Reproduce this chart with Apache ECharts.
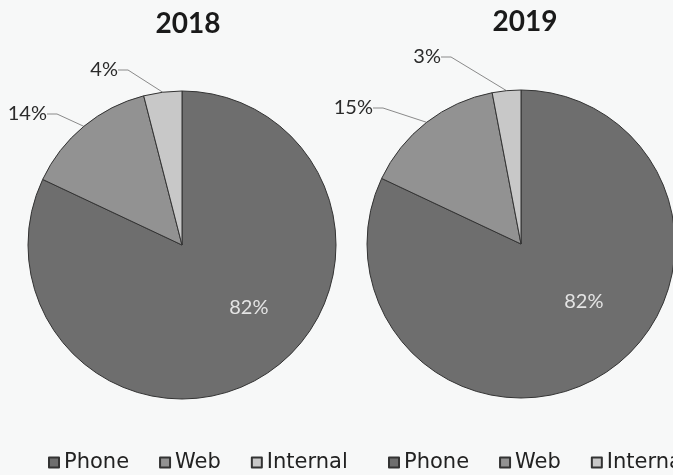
<!DOCTYPE html>
<html>
<head>
<meta charset="utf-8">
<script src="https://cdn.jsdelivr.net/npm/echarts@6/dist/echarts.min.js"></script>
<style>
  html, body { margin: 0; padding: 0; background: #f7f8f8; }
  #chart { width: 673px; height: 475px; }
</style>
</head>
<body>
<div id="chart"></div>
<script>
// Channel split per year, in percent
const categories = ['Phone', 'Web', 'Internal'];
const years = ['2018', '2019'];
const share2018 = [82, 14, 4];
const share2019 = [82, 15, 3];

const sliceColors = ['#6e6e6e', '#929292', '#c8c8c8'];
const labelFont = 'Lato, "DejaVu Sans", sans-serif';
const legendFont = '"DejaVu Sans", Lato, sans-serif';

// Where the small outside labels sit (right edge, vertical middle), per pie
const outsideLabelSpots = [
  { 1: [47, 114], 2: [118, 70] },
  { 1: [373, 108], 2: [441, 57] }
];
// Shift of the big inside label from its default spot, per pie
const insideLabelShift = [[24, -5], [20, -10]];

function buildData(values) {
  return categories.map((name, i) => {
    const item = { name: name, value: values[i] };
    if (i === 0) {
      item.label = { position: 'inside', color: '#e4e4e4', fontSize: 20 };
    }
    return item;
  });
}

function pieSeries(values, center, pieIndex) {
  return {
    type: 'pie',
    center: center,
    radius: 154,
    startAngle: 90,
    clockwise: true,
    avoidLabelOverlap: false,
    color: sliceColors,
    itemStyle: { borderColor: '#333', borderWidth: 1 },
    label: {
      show: true,
      position: 'outside',
      formatter: '{c}%',
      fontFamily: labelFont,
      fontSize: 20,
      color: '#2b2b2b'
    },
    labelLine: {
      show: true,
      length: 14,
      length2: 10,
      lineStyle: { color: '#8a8a8a', width: 1 }
    },
    labelLayout: function (params) {
      if (params.dataIndex === 0) {
        const s = insideLabelShift[pieIndex];
        return { dx: s[0], dy: s[1] };
      }
      const spot = outsideLabelSpots[pieIndex][params.dataIndex];
      return { x: spot[0], y: spot[1], align: 'right', verticalAlign: 'middle' };
    },
    emphasis: { disabled: true },
    data: buildData(values)
  };
}

function legendAt(left) {
  return {
    data: categories, left: left, top: 447, width: 360,
    icon: 'rect', itemWidth: 10, itemHeight: 10, itemGap: 30,
    textStyle: { fontFamily: legendFont, fontSize: 21, color: '#222' }
  };
}

const chart = echarts.init(document.getElementById('chart'), null, { renderer: 'canvas' });
chart.setOption({
  backgroundColor: '#f7f8f8',
  animation: false,
  title: [
    { text: years[0], left: 183, top: 5, textAlign: 'center',
      textStyle: { fontFamily: labelFont, fontWeight: 'bold', fontSize: 28, color: '#1a1a1a' } },
    { text: years[1], left: 520, top: 3, textAlign: 'center',
      textStyle: { fontFamily: labelFont, fontWeight: 'bold', fontSize: 28, color: '#1a1a1a' } }
  ],
  legend: [legendAt(43), legendAt(383)],
  series: [
    pieSeries(share2018, [182, 245], 0),
    pieSeries(share2019, [521, 244], 1)
  ]
});
</script>
</body>
</html>
